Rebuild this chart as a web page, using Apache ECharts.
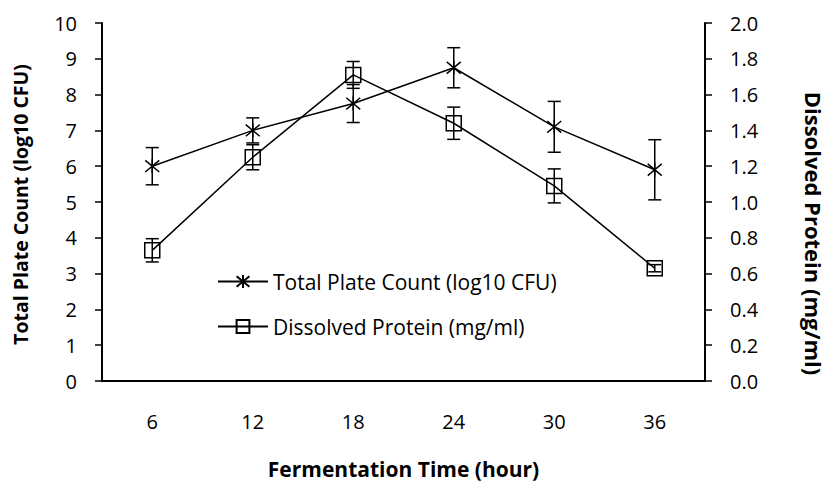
<!DOCTYPE html>
<html>
<head>
<meta charset="utf-8">
<script src="https://cdn.jsdelivr.net/npm/echarts@6/dist/echarts.min.js"></script>
<style>
  html, body { margin: 0; padding: 0; background: #fff; }
  #chart { width: 833px; height: 484px; }
</style>
</head>
<body>
<div id="chart"></div>
<script>
// fermentation time (hour)
var hours = ['6', '12', '18', '24', '30', '36'];
// total plate count, log10 CFU, with error
var plateCount = [6.0, 7.0, 7.75, 8.75, 7.1, 5.9];
var plateCountErr = [0.52, 0.35, 0.53, 0.56, 0.71, 0.84];
// dissolved protein, mg/ml, with error
var protein = [0.73, 1.25, 1.71, 1.44, 1.09, 0.63];
var proteinErr = [0.065, 0.07, 0.075, 0.09, 0.095, 0.02];

var ink = '#000';
var font = 'Open Sans';
var starPath = 'path://M0,0L10,10M10,0L0,10M5,-1L5,11';
var boxPath = 'path://M0,0L10,0L10,10L0,10Z';

function errData(vals, errs) {
  return vals.map(function (v, i) { return [i, v, errs[i]]; });
}

function renderErr(params, api) {
  var x = api.value(0), v = api.value(1), e = api.value(2);
  var top = api.coord([x, v + e]);
  var bot = api.coord([x, v - e]);
  var hw = 6.5;
  var st = { stroke: ink, lineWidth: 1.5 };
  return {
    type: 'group',
    children: [
      { type: 'line', shape: { x1: top[0], y1: top[1], x2: bot[0], y2: bot[1] }, style: st },
      { type: 'line', shape: { x1: top[0] - hw, y1: top[1], x2: top[0] + hw, y2: top[1] }, style: st },
      { type: 'line', shape: { x1: bot[0] - hw, y1: bot[1], x2: bot[0] + hw, y2: bot[1] }, style: st }
    ]
  };
}

var chart = echarts.init(document.getElementById('chart'), null, { renderer: 'svg' });
chart.setOption({
  animation: false,
  textStyle: { fontFamily: font, color: ink },
  grid: { left: 102, right: 123, top: 23, bottom: 97, containLabel: false },
  legend: {
    data: ['Total Plate Count (log10 CFU)', 'Dissolved Protein (mg/ml)'],
    orient: 'vertical',
    left: 212,
    top: 266,
    itemWidth: 50,
    itemHeight: 16,
    itemGap: 24,
    textStyle: { fontFamily: font, fontSize: 21, color: ink }
  },
  xAxis: {
    type: 'category',
    data: hours,
    boundaryGap: true,
    name: 'Fermentation Time (hour)',
    nameLocation: 'middle',
    nameGap: 77,
    nameTextStyle: { fontFamily: font, fontSize: 21, fontWeight: 'bold', color: ink },
    axisLine: { lineStyle: { color: ink, width: 2 } },
    axisTick: { show: false },
    axisLabel: { color: ink, fontSize: 20, margin: 30 }
  },
  yAxis: [{
    type: 'value',
    min: 0,
    max: 10,
    interval: 1,
    name: 'Total Plate Count (log10 CFU)',
    nameLocation: 'middle',
    nameGap: 72,
    nameTextStyle: { fontFamily: font, fontSize: 19.5, fontWeight: 'bold', color: ink, padding: [0, 5, 0, 0] },
    axisLine: { show: true, lineStyle: { color: ink, width: 2 } },
    axisTick: { show: true, length: 7, lineStyle: { color: ink, width: 1.5 } },
    axisLabel: { color: ink, fontSize: 20, margin: 25 },
    splitLine: { show: false }
  }, {
    type: 'value',
    min: 0,
    max: 2,
    interval: 0.2,
    position: 'right',
    name: 'Dissolved Protein (mg/ml)',
    nameLocation: 'middle',
    nameRotate: -90,
    nameGap: 98,
    nameTextStyle: { fontFamily: font, fontSize: 22, fontWeight: 'bold', color: ink, padding: [0, 0, 0, 63] },
    axisLine: { show: true, lineStyle: { color: ink, width: 2 } },
    axisTick: { show: true, length: 7, lineStyle: { color: ink, width: 1.5 } },
    axisLabel: { color: ink, fontSize: 20, margin: 25, formatter: function (v) { return v.toFixed(1); } },
    splitLine: { show: false }
  }],
  series: [{
    name: 'Total Plate Count (log10 CFU)',
    type: 'line',
    data: plateCount,
    symbol: starPath,
    symbolSize: 14,
    lineStyle: { color: ink, width: 1.5 },
    itemStyle: { color: 'rgba(0,0,0,0)', borderColor: ink, borderWidth: 1.5 },
    z: 3
  }, {
    name: 'Dissolved Protein (mg/ml)',
    type: 'line',
    yAxisIndex: 1,
    data: protein,
    symbol: boxPath,
    symbolSize: 15,
    lineStyle: { color: ink, width: 1.5 },
    itemStyle: { color: 'rgba(0,0,0,0)', borderColor: ink, borderWidth: 1.5 },
    z: 3
  }, {
    type: 'custom',
    data: errData(plateCount, plateCountErr),
    renderItem: renderErr,
    encode: { x: 0, y: 1 },
    z: 2
  }, {
    type: 'custom',
    yAxisIndex: 1,
    data: errData(protein, proteinErr),
    renderItem: renderErr,
    encode: { x: 0, y: 1 },
    z: 2
  }]
});
</script>
</body>
</html>
